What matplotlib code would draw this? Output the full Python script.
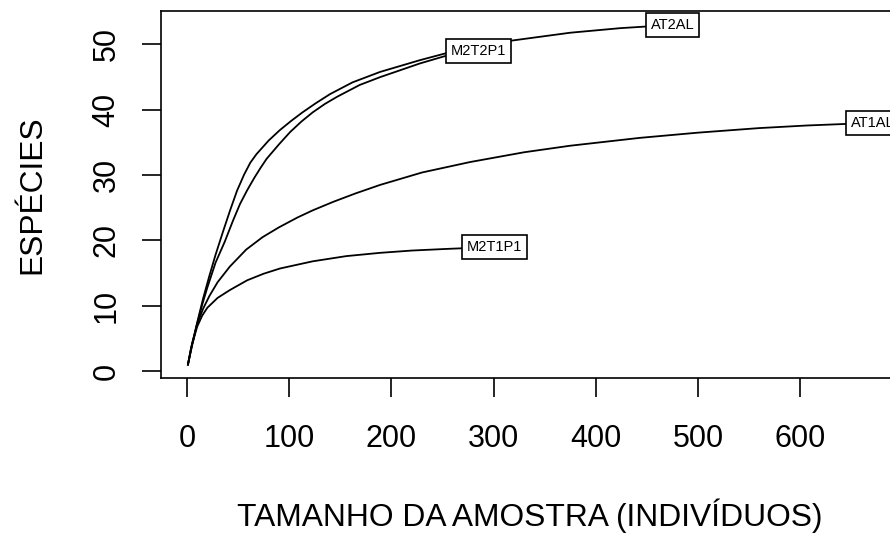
import matplotlib
matplotlib.use("Agg")
import matplotlib.pyplot as plt

plt.rcParams['font.family'] = ['Liberation Sans', 'DejaVu Sans']

# rarefaction curves (individuals, expected species)
at2al_n = [1, 5, 10, 16, 22, 28, 35, 42, 49, 56, 62, 68, 80, 91, 102, 113, 126, 140, 162, 189, 228, 252, 285, 318, 375, 424, 475]
at2al_s = [1, 4.0, 7.4, 11.2, 14.6, 17.8, 21.2, 24.5, 27.6, 30.1, 31.9, 33.2, 35.3, 36.9, 38.3, 39.6, 41.0, 42.4, 44.2, 45.8, 47.6, 48.6, 49.7, 50.6, 51.8, 52.5, 53]

m2t2p1_n = [1, 5, 10, 15, 20, 28, 37, 45, 52, 59, 66, 72, 78, 90, 101, 112, 123, 135, 147, 169, 189, 228, 252, 270, 285]
m2t2p1_s = [1, 3.9, 7.2, 10.2, 12.8, 16.6, 19.8, 23.0, 25.6, 27.7, 29.6, 31.1, 32.5, 34.7, 36.6, 38.2, 39.6, 40.9, 42.0, 43.8, 45.0, 47.1, 48.2, 48.7, 49]

at1al_n = [1, 5, 10, 16, 22, 30, 42, 58, 74, 90, 108, 123, 143, 165, 189, 230, 277, 330, 375, 443, 500, 560, 607, 671]
at1al_s = [1, 4.2, 7.2, 9.6, 11.5, 13.6, 16.0, 18.6, 20.5, 22.0, 23.5, 24.6, 25.9, 27.2, 28.5, 30.4, 32.0, 33.5, 34.5, 35.7, 36.5, 37.2, 37.6, 38]

m2t1p1_n = [1, 4, 10, 15, 20, 30, 42, 59, 75, 91, 123, 156, 189, 220, 254, 301]
m2t1p1_s = [1, 3.5, 6.8, 8.5, 9.7, 11.2, 12.4, 13.9, 14.9, 15.7, 16.8, 17.6, 18.1, 18.45, 18.7, 19]

curves = [("AT1AL", at1al_n, at1al_s), ("AT2AL", at2al_n, at2al_s),
          ("M2T1P1", m2t1p1_n, m2t1p1_s), ("M2T2P1", m2t2p1_n, m2t2p1_s)]

fig = plt.figure(figsize=(8.9, 5.33), dpi=100)
ax = fig.add_axes([0.1804, 0.2906, 0.8310, 0.6882])

for name, n, s in curves:
    ax.plot(n, s, color='black', lw=1.3)
for name, n, s in curves:
    ax.text(n[-1], s[-1], name, ha='center', va='center', fontsize=10.5,
            bbox=dict(boxstyle='square,pad=0.33', fc='white', ec='black', lw=1.2))

ax.set_xlim(-25.8, 697.8)
ax.set_ylim(-1.08, 55.08)
ax.set_xticks(range(0, 700, 100))
ax.set_yticks(range(0, 60, 10))
for sp in ax.spines.values():
    sp.set_linewidth(1.2)
ax.tick_params(axis='both', length=13.7, width=1.2, labelsize=22)
ax.tick_params(axis='x', pad=19)
ax.tick_params(axis='y', pad=14.5)
for lab in ax.get_yticklabels():
    lab.set_rotation(90)
    lab.set_va('center')

fig.text(530 / 890, (533 - 526) / 533, "TAMANHO DA AMOSTRA (INDIVÍDUOS)", fontsize=22.9,
         ha='center', va='baseline', rotation_mode='anchor')
fig.text(40 / 890, (533 - 194.7) / 533, "ESPÉCIES", fontsize=22.9, rotation=90,
         ha='center', va='baseline', rotation_mode='anchor')

fig.savefig("out.png", dpi=100)
